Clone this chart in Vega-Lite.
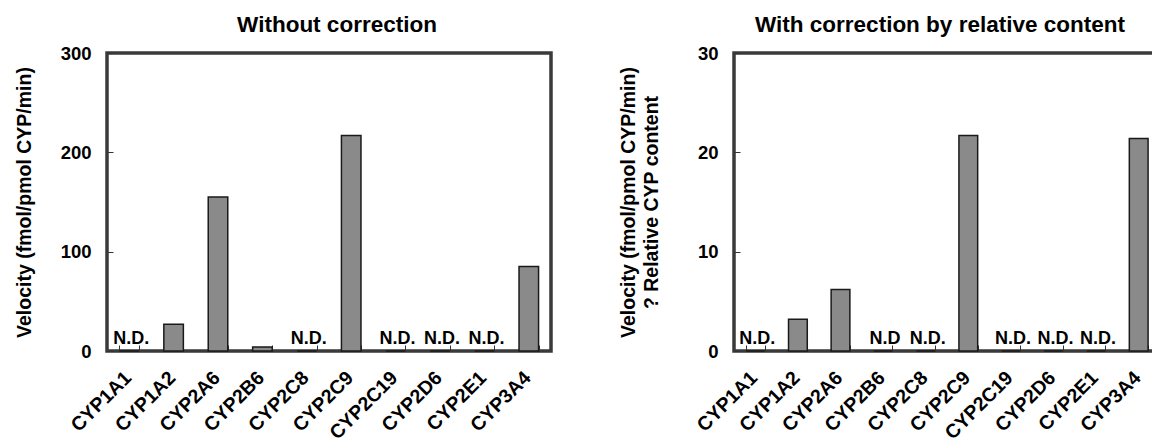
{
  "$schema": "https://vega.github.io/schema/vega-lite/v6.json",
  "padding": {"left": 12, "top": 11, "right": 0, "bottom": 0},
  "background": "white",
  "config": {
    "font": "Liberation Sans",
    "view": {"stroke": "#3a3a3a", "strokeWidth": 3.5},
    "title": {"fontSize": 22.5, "fontWeight": "bold", "color": "black", "offset": 8},
    "axis": {
      "labelColor": "black", "titleColor": "black", "labelFontWeight": "bold", "titleFontWeight": "bold",
      "grid": false, "domain": false, "tickColor": "#333", "tickWidth": 1
    },
    "axisX": {"labelAngle": -45, "labelFontSize": 19.5, "tickBand": "extent", "tickSize": -6, "labelPadding": 23, "labelOffset": -8, "title": null},
    "axisY": {"labelFontSize": 18.5, "tickSize": -6, "labelPadding": 22, "titleFontSize": 19.5, "titlePadding": 26}
  },
  "datasets": {
    "raw": [
      {"cyp": "CYP1A1", "v": 0, "label": "N.D."},
      {"cyp": "CYP1A2", "v": 27, "label": ""},
      {"cyp": "CYP2A6", "v": 155, "label": ""},
      {"cyp": "CYP2B6", "v": 4, "label": ""},
      {"cyp": "CYP2C8", "v": 0, "label": "N.D."},
      {"cyp": "CYP2C9", "v": 217, "label": ""},
      {"cyp": "CYP2C19", "v": 0, "label": "N.D."},
      {"cyp": "CYP2D6", "v": 0, "label": "N.D."},
      {"cyp": "CYP2E1", "v": 0, "label": "N.D."},
      {"cyp": "CYP3A4", "v": 85, "label": ""}
    ],
    "corr": [
      {"cyp": "CYP1A1", "v": 0, "label": "N.D."},
      {"cyp": "CYP1A2", "v": 3.2, "label": ""},
      {"cyp": "CYP2A6", "v": 6.2, "label": ""},
      {"cyp": "CYP2B6", "v": 0, "label": "N.D"},
      {"cyp": "CYP2C8", "v": 0, "label": "N.D."},
      {"cyp": "CYP2C9", "v": 21.7, "label": ""},
      {"cyp": "CYP2C19", "v": 0, "label": "N.D."},
      {"cyp": "CYP2D6", "v": 0, "label": "N.D."},
      {"cyp": "CYP2E1", "v": 0, "label": "N.D."},
      {"cyp": "CYP3A4", "v": 21.4, "label": ""}
    ]
  },
  "spacing": 63,
  "hconcat": [
    {
      "title": {"text": "Without correction", "dx": 8},
      "width": 444,
      "height": 298,
      "data": {"name": "raw"},
      "encoding": {
        "x": {"field": "cyp", "type": "nominal", "sort": null, "scale": {"paddingInner": 0.56, "paddingOuter": 0.28}},
        "y": {"field": "v", "type": "quantitative", "scale": {"domain": [0, 300], "nice": false},
              "axis": {"values": [0, 100, 200, 300], "title": "Velocity (fmol/pmol CYP/min)"}}
      },
      "layer": [
        {"mark": {"type": "bar", "fill": "#8a8a8a", "stroke": "#1a1a1a", "strokeWidth": 1.5}},
        {"mark": {"type": "text", "fontSize": 18, "fontWeight": "bold", "baseline": "alphabetic", "dy": -7, "dx": 2, "color": "black"},
         "encoding": {"text": {"field": "label"}}}
      ]
    },
    {
      "title": {"text": "With correction by relative content", "dx": -7},
      "width": 426,
      "height": 298,
      "data": {"name": "corr"},
      "encoding": {
        "x": {"field": "cyp", "type": "nominal", "sort": null, "scale": {"paddingInner": 0.56, "paddingOuter": 0.28}},
        "y": {"field": "v", "type": "quantitative", "scale": {"domain": [0, 30], "nice": false},
              "axis": {"values": [0, 10, 20, 30], "title": ["Velocity (fmol/pmol CYP/min)", "? Relative CYP content"], "titleLineHeight": 23, "titlePadding": 36}}
      },
      "layer": [
        {"mark": {"type": "bar", "fill": "#8a8a8a", "stroke": "#1a1a1a", "strokeWidth": 1.5}},
        {"mark": {"type": "text", "fontSize": 18, "fontWeight": "bold", "baseline": "alphabetic", "dy": -7, "dx": 2, "color": "black"},
         "encoding": {"text": {"field": "label"}}}
      ]
    }
  ]
}
